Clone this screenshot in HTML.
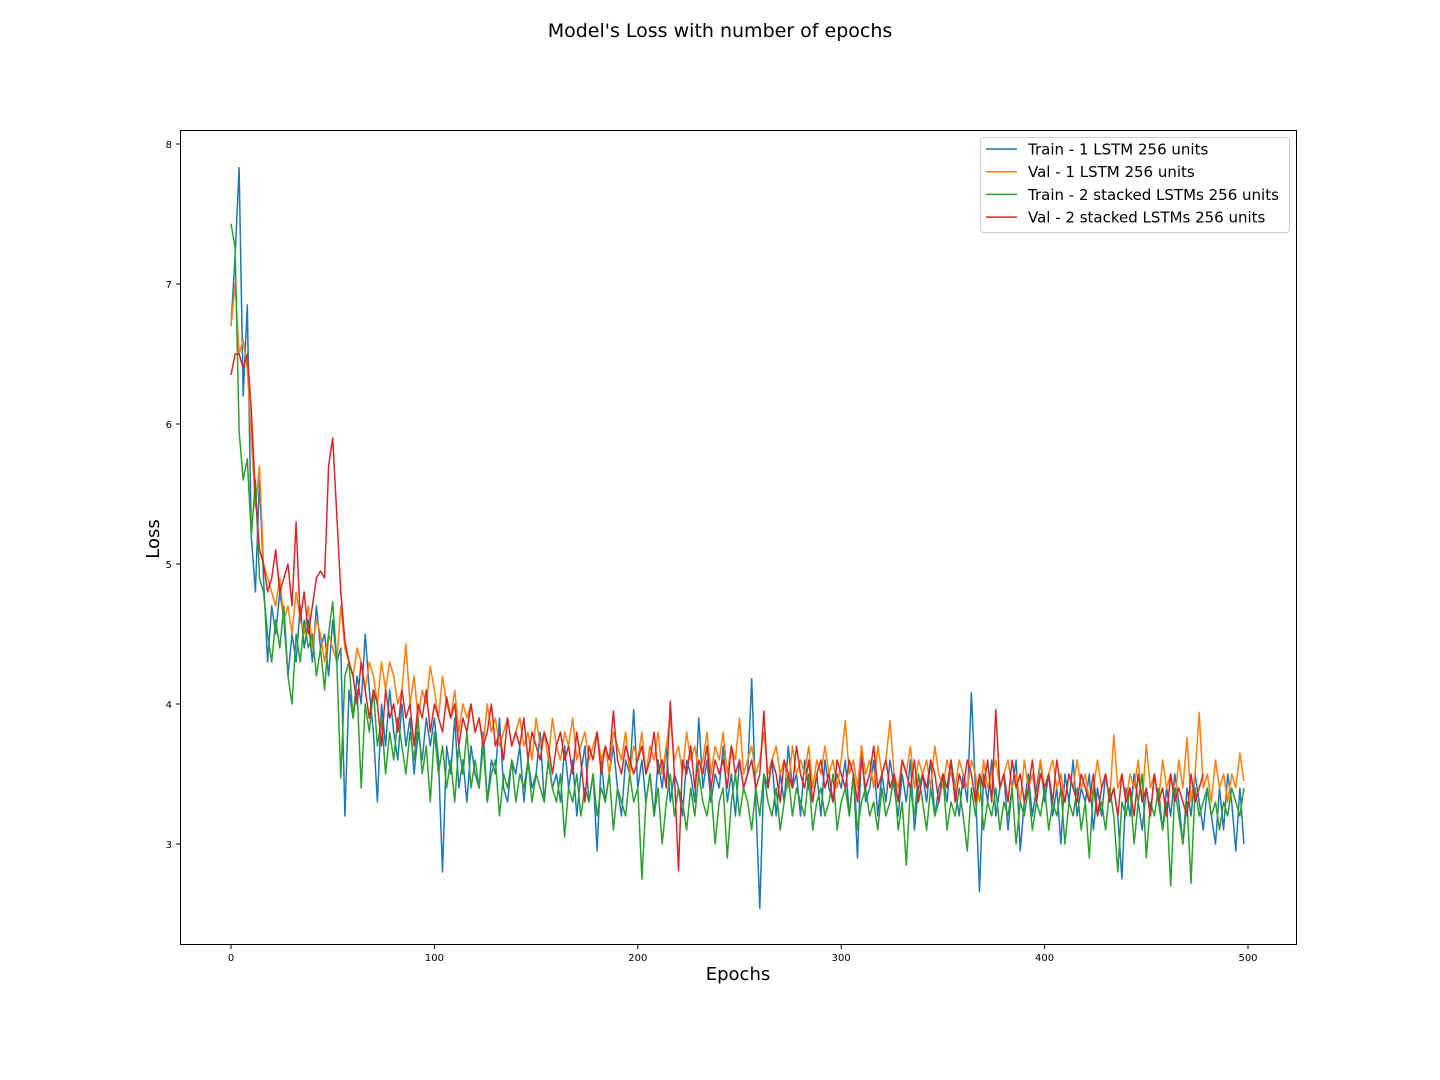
<!DOCTYPE html>
<html><head><meta charset="utf-8">
<style>
html,body{margin:0;padding:0;background:#fff;}
svg{display:block;font-family:"DejaVu Sans","Liberation Sans",sans-serif;}
</style></head>
<body>
<svg id="chart" width="1440" height="1080" viewBox="0 0 1440 1080" xmlns="http://www.w3.org/2000/svg">
<rect width="1440" height="1080" fill="#fff"/>
<text x="720" y="37" text-anchor="middle" font-size="19" fill="#000">Model's Loss with number of epochs</text>
<g id="plot"></g>
<rect x="180.5" y="130.5" width="1116" height="814" fill="none" stroke="#000" stroke-width="1"/>
<text x="738" y="980" text-anchor="middle" font-size="18">Epochs</text>
<text x="0" y="0" transform="translate(159,539) rotate(-90)" text-anchor="middle" font-size="18">Loss</text>
<g id="legend">
<rect x="980.5" y="137.5" width="309" height="95" rx="3" fill="#fff" fill-opacity="0.8" stroke="#ccc"/>
</g>
</svg>
<script>
const xTicks=[0,100,200,300,400,500];
const yTicks=[3,4,5,6,7,8];
const seriesNames=["Train - 1 LSTM 256 units","Val - 1 LSTM 256 units","Train - 2 stacked LSTMs 256 units","Val - 2 stacked LSTMs 256 units"];
const seriesColors=["#1f77b4","#ff7f0e","#2ca02c","#d62728"];
const epochStep=2;
const train1=[6.7,7.2,7.83,6.2,6.85,5.2,4.8,5.6,4.9,4.3,
4.7,4.5,4.8,4.6,4.2,4.5,4.3,4.7,4.4,4.6,
4.3,4.7,4.4,4.5,4.2,4.6,4.3,4.4,3.2,4.1,
3.9,4.2,4.0,4.5,4.1,3.8,3.3,4.0,3.7,4.1,
3.8,3.6,4.0,3.7,3.9,3.5,3.8,3.6,3.9,3.7,
3.9,3.6,2.8,3.7,3.5,3.9,3.4,3.6,3.3,3.7,
3.5,3.4,3.8,3.3,3.6,3.5,3.9,3.4,3.3,3.6,
3.5,3.7,3.3,3.6,3.4,3.5,3.8,3.3,3.6,3.4,
3.5,3.3,3.7,3.4,3.6,3.2,3.5,3.7,3.3,3.5,
2.95,3.6,3.3,3.5,3.7,3.4,3.2,3.6,3.5,3.96,
3.4,3.6,3.3,3.5,3.2,3.6,3.4,3.7,3.3,3.5,
3.4,3.2,3.6,3.5,3.3,3.9,3.4,3.6,3.3,3.5,
3.4,3.7,3.3,3.5,3.2,3.6,3.4,3.5,4.18,3.3,
2.54,3.5,3.4,3.6,3.2,3.5,3.3,3.7,3.4,3.5,
3.2,3.6,3.4,3.3,3.5,3.2,3.6,3.4,3.3,3.5,
3.4,3.6,3.2,3.5,2.9,3.7,3.3,3.4,3.6,3.2,
3.5,3.3,3.6,3.4,3.2,3.5,3.3,3.6,3.1,3.4,
3.5,3.3,3.6,3.2,3.4,3.5,3.3,3.6,3.4,3.2,
3.5,3.3,4.08,3.4,2.66,3.5,3.3,3.6,3.2,3.4,
3.5,3.1,3.4,3.6,2.95,3.3,3.5,3.2,3.4,3.6,
3.3,3.5,3.2,3.4,3.0,3.5,3.3,3.6,3.2,3.4,
3.3,3.5,3.1,3.4,3.2,3.5,3.3,3.4,3.2,2.75,
3.4,3.2,3.5,3.3,3.1,3.4,3.2,3.5,3.3,3.1,
3.4,3.2,3.5,3.3,3.0,3.4,3.2,3.5,3.3,3.1,
3.4,3.2,3.0,3.4,3.1,3.5,3.3,2.95,3.4,3.0];
const val1=[6.7,7.0,6.5,6.6,6.4,5.9,5.4,5.7,5.0,4.9,
4.8,4.7,4.9,4.6,4.7,4.5,4.8,4.6,4.5,4.7,
4.4,4.6,4.5,4.3,4.5,4.4,4.3,4.7,4.4,4.3,
4.2,4.4,4.3,4.1,4.3,4.2,4.0,4.3,4.1,4.3,
4.2,4.0,4.1,4.43,4.0,4.2,3.9,4.1,4.0,4.27,
4.1,3.9,4.2,4.0,3.9,4.1,3.8,4.0,3.9,4.0,
3.8,3.9,3.7,4.0,3.8,3.9,3.7,3.8,3.9,3.7,
3.8,3.9,3.7,3.8,3.6,3.9,3.7,3.8,3.6,3.9,
3.7,3.6,3.8,3.7,3.9,3.6,3.7,3.8,3.6,3.7,
3.8,3.6,3.7,3.5,3.8,3.7,3.6,3.8,3.5,3.7,
3.6,3.8,3.5,3.7,3.6,3.8,3.5,3.7,3.9,3.6,
3.7,3.5,3.8,3.6,3.7,3.5,3.6,3.8,3.5,3.7,
3.6,3.8,3.5,3.7,3.6,3.9,3.5,3.6,3.7,3.5,
3.6,3.8,3.5,3.6,3.7,3.5,3.6,3.4,3.7,3.5,
3.6,3.5,3.7,3.4,3.6,3.5,3.7,3.5,3.6,3.4,
3.6,3.88,3.5,3.6,3.4,3.7,3.5,3.6,3.4,3.7,
3.5,3.6,3.88,3.5,3.4,3.6,3.5,3.7,3.4,3.6,
3.5,3.6,3.4,3.7,3.5,3.4,3.6,3.5,3.4,3.6,
3.5,3.4,3.6,3.5,3.3,3.6,3.4,3.5,3.6,3.4,
3.5,3.6,3.4,3.5,3.3,3.6,3.4,3.5,3.3,3.6,
3.4,3.5,3.6,3.4,3.5,3.3,3.5,3.4,3.6,3.4,
3.5,3.3,3.4,3.6,3.4,3.5,3.3,3.78,3.4,3.5,
3.3,3.5,3.4,3.6,3.3,3.71,3.4,3.5,3.3,3.6,
3.4,3.5,3.3,3.6,3.4,3.76,3.3,3.5,3.94,3.4,
3.5,3.3,3.6,3.4,3.5,3.3,3.5,3.4,3.65,3.45];
const train2=[7.43,7.26,5.95,5.6,5.75,5.2,5.6,4.9,4.8,4.5,
4.3,4.6,4.4,4.7,4.2,4.0,4.5,4.3,4.6,4.4,
4.5,4.2,4.4,4.1,4.5,4.73,4.3,3.47,4.2,4.3,
3.9,4.1,3.4,4.0,3.8,4.1,3.7,3.9,3.5,3.8,
3.6,3.9,3.7,3.5,3.8,3.6,3.9,3.5,3.7,3.3,
3.8,3.5,3.7,3.4,3.6,3.3,3.7,3.5,3.8,3.4,
3.6,3.4,3.7,3.3,3.5,3.6,3.2,3.5,3.4,3.6,
3.3,3.5,3.4,3.6,3.3,3.5,3.4,3.3,3.6,3.4,
3.3,3.5,3.05,3.4,3.3,3.5,3.2,3.4,3.3,3.5,
3.2,3.4,3.3,3.5,3.1,3.4,3.3,3.2,3.5,3.3,
3.4,2.75,3.3,3.5,3.2,3.4,3.0,3.3,3.5,3.2,
3.4,3.3,3.1,3.4,3.2,3.5,3.3,3.2,3.4,3.0,
3.3,3.4,2.9,3.3,3.5,3.2,3.4,3.3,3.1,3.4,
3.2,3.5,3.3,3.2,3.4,3.1,3.3,3.5,3.2,3.4,
3.3,3.2,3.5,3.1,3.3,3.4,3.2,3.3,3.5,3.1,
3.3,3.4,3.2,3.5,3.1,3.3,3.4,3.2,3.3,3.1,
3.4,3.2,3.3,3.5,3.1,3.3,2.85,3.4,3.2,3.5,
3.3,3.1,3.4,3.2,3.3,3.5,3.1,3.3,3.2,3.4,
3.2,2.95,3.4,3.2,3.5,3.1,3.3,3.2,3.4,3.1,
3.3,3.2,3.4,3.0,3.3,3.2,3.4,3.1,3.3,3.2,
3.4,3.1,3.3,3.2,3.4,3.0,3.3,3.2,3.4,3.1,
3.3,2.9,3.4,3.2,3.3,3.1,3.4,3.2,2.8,3.3,
3.2,3.4,3.0,3.3,3.5,2.9,3.3,3.2,3.4,3.1,
3.3,2.7,3.4,3.2,3.0,3.3,2.72,3.4,3.2,3.3,
3.4,3.2,3.3,3.1,3.3,3.2,3.4,3.3,3.2,3.4];
const val2=[6.35,6.5,6.5,6.4,6.5,6.1,5.5,5.1,5.0,4.8,
4.9,5.1,4.8,4.9,5.0,4.7,5.3,4.6,4.8,4.5,
4.7,4.9,4.95,4.9,5.7,5.9,5.35,4.8,4.45,4.3,
4.2,4.0,4.3,4.1,3.9,4.1,4.0,3.7,4.1,3.9,
4.0,3.8,4.1,3.9,4.0,3.7,4.0,3.9,4.1,3.8,
4.0,3.9,3.8,4.05,3.9,4.0,3.7,3.9,3.8,4.0,
3.8,3.9,3.7,3.8,4.0,3.7,3.8,3.6,3.9,3.7,
3.8,3.7,3.9,3.6,3.8,3.7,3.6,3.8,3.7,3.5,
3.7,3.8,3.6,3.7,3.5,3.8,3.6,3.3,3.7,3.6,
3.8,3.5,3.7,3.6,3.95,3.6,3.5,3.7,3.6,3.5,
3.6,3.7,3.5,3.6,3.8,3.5,3.6,3.4,4.02,3.5,
2.81,3.6,3.5,3.7,3.4,3.6,3.5,3.7,3.4,3.6,
3.5,3.6,3.4,3.7,3.5,3.6,3.4,3.5,3.6,3.4,
3.5,3.95,3.4,3.6,3.5,3.3,3.6,3.5,3.4,3.7,
3.5,3.4,3.6,3.3,3.5,3.6,3.4,3.5,3.3,3.6,
3.5,3.4,3.6,3.5,3.3,3.6,3.4,3.5,3.7,3.4,
3.5,3.6,3.4,3.5,3.3,3.6,3.5,3.4,3.6,3.3,
3.5,3.4,3.6,3.5,3.3,3.5,3.4,3.6,3.3,3.5,
3.4,3.6,3.5,3.3,3.5,3.4,3.6,3.3,3.96,3.4,
3.5,3.3,3.6,3.4,3.5,3.3,3.4,3.6,3.3,3.5,
3.4,3.5,3.3,3.6,3.4,3.3,3.5,3.4,3.3,3.5,
3.4,3.3,3.5,3.2,3.4,3.5,3.3,3.4,3.2,3.5,
3.3,3.4,3.2,3.5,3.3,3.4,3.2,3.5,3.3,3.4,
3.2,3.5,3.3,3.4,3.3,3.2,3.5,3.3,3.4,3.5];

const NS="http://www.w3.org/2000/svg";
const L=180,R=1297,T=130,B=945;
const xScale=v=>231+v*(1248-231)/500;
const yScale=v=>844-(v-3)*140;
const plot=document.getElementById('plot');

xTicks.forEach(t=>{
  const x=xScale(t);
  const ln=document.createElementNS(NS,'line');
  
  
  ln.setAttribute('x1',x);ln.setAttribute('x2',x);ln.setAttribute('y1',B);ln.setAttribute('y2',B+4);
  ln.setAttribute('stroke','#000');
  plot.appendChild(ln);
  const tx=document.createElementNS(NS,'text');
  
  
  tx.setAttribute('x',x);tx.setAttribute('y',B+16);tx.setAttribute('text-anchor','middle');tx.setAttribute('font-size','10');
  tx.textContent=t;plot.appendChild(tx);
});
yTicks.forEach(t=>{
  const y=yScale(t);
  const ln=document.createElementNS(NS,'line');
  
  
  ln.setAttribute('x1',L-4);ln.setAttribute('x2',L);ln.setAttribute('y1',y);ln.setAttribute('y2',y);
  ln.setAttribute('stroke','#000');
  plot.appendChild(ln);
  const tx=document.createElementNS(NS,'text');
  
  
  tx.setAttribute('x',L-8);tx.setAttribute('y',y+4);tx.setAttribute('text-anchor','end');tx.setAttribute('font-size','10');
  tx.textContent=t;plot.appendChild(tx);
});

const allSeries=[train1,val1,train2,val2];
const seriesKeys=['train-1-lstm','val-1-lstm','train-2-lstm','val-2-lstm'];
allSeries.forEach((arr,i)=>{
  const d=arr.map((v,k)=>(k?'L':'M')+xScale(k*epochStep).toFixed(1)+','+yScale(v).toFixed(1)).join('');
  const p=document.createElementNS(NS,'path');
  
  
  p.setAttribute('d',d);p.setAttribute('fill','none');
  p.setAttribute('stroke',seriesColors[i]);p.setAttribute('stroke-width','1.5');
  p.setAttribute('stroke-linejoin','round');
  plot.appendChild(p);
});

const leg=document.getElementById('legend');
seriesNames.forEach((n,i)=>{
  const y=149+i*22.7;
  const ln=document.createElementNS(NS,'line');
  
  
  ln.setAttribute('x1',986);ln.setAttribute('x2',1017);ln.setAttribute('y1',y);ln.setAttribute('y2',y);
  ln.setAttribute('stroke',seriesColors[i]);ln.setAttribute('stroke-width','1.5');
  leg.appendChild(ln);
  const tx=document.createElementNS(NS,'text');
  
  
  tx.setAttribute('x',1028);tx.setAttribute('y',y+5.5);tx.setAttribute('font-size','15');
  tx.textContent=n;leg.appendChild(tx);
});
</script>
</body></html>
